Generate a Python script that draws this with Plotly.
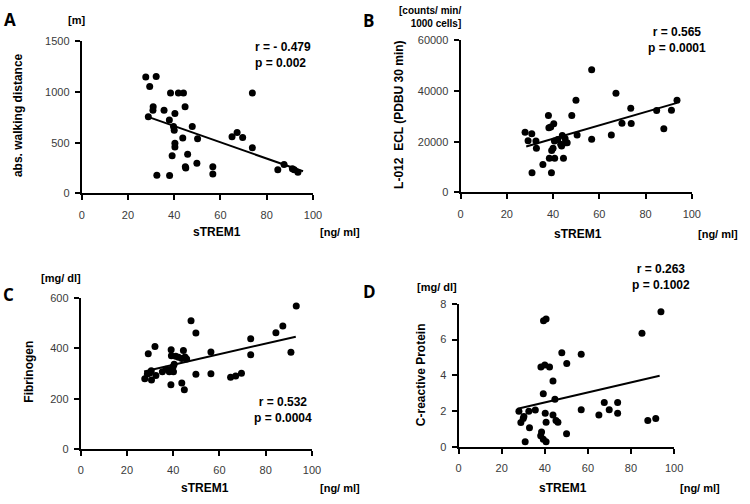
import plotly.graph_objects as go

# sTREM1 vs. four clinical parameters

# panel A - absolute walking distance [m]
a_x = [27.7, 32.2, 29.4, 38.4, 41.8, 44.0, 73.8, 30.9, 30.8, 44.7, 35.6, 40.3, 28.8,
       37.9, 39.7, 40.0, 47.8, 65.0, 67.2, 69.6, 73.8, 43.7, 50.1, 40.3, 40.3, 39.1,
       45.8, 44.8, 45.0, 49.8, 56.7, 56.7, 32.5, 38.0, 84.8, 87.5, 91.1, 91.9, 93.5]
a_y = [1147, 1151, 1054, 990, 990, 990, 990, 853, 820, 853, 820, 788, 756,
       724, 660, 622, 660, 558, 599, 551, 449, 545, 538, 494, 458, 372,
       385, 263, 250, 298, 263, 192, 179, 176, 234, 285, 244, 234, 208]
a_fit_x = [28.4, 95.7]
a_fit_y = [756, 218]

# panel B - L-012 ECL (PDBU 30 min)
b_x = [27.9, 30.8, 29.2, 30.9, 32.6, 32.8, 35.6, 38.0, 38.2, 39.0, 40.3, 38.4, 39.3,
       39.4, 40.0, 40.7, 40.6, 42.0, 43.3, 43.7, 44.0, 45.2, 45.4, 46.1, 44.5, 48.1,
       49.9, 50.4, 56.7, 56.7, 65.2, 67.2, 69.8, 73.6, 73.8, 84.8, 87.9, 91.2, 93.6]
b_y = [23700, 23100, 20400, 7800, 20300, 17400, 11000, 30300, 25500, 25800, 27100, 13500, 7800,
       16500, 17400, 13500, 20300, 20900, 19000, 18300, 22400, 21300, 19600, 19600, 13500, 30300,
       36300, 22600, 48300, 21000, 22600, 39100, 27300, 33200, 27200, 32300, 25100, 32400, 36300]
b_fit_x = [28.4, 93.6]
b_fit_y = [18100, 35300]

# panel C - fibrinogen [mg/dl]
c_x = [27.7, 28.8, 29.8, 29.2, 30.6, 30.5, 32.1, 32.5, 35.3, 36.9, 38.3, 39.1, 39.2,
       39.0, 40.0, 40.1, 39.2, 41.1, 40.4, 42.3, 43.7, 43.7, 44.4, 45.1, 44.8, 45.8,
       47.7, 49.8, 49.8, 56.3, 56.3, 64.8, 67.0, 69.5, 73.5, 73.5, 84.4, 87.4, 90.9, 93.2]
c_y = [279, 298, 302, 378, 274, 311, 407, 292, 307, 317, 307, 394, 371,
       256, 328, 307, 317, 369, 337, 365, 360, 262, 391, 366, 236, 358,
       509, 461, 297, 385, 299, 285, 290, 301, 438, 374, 462, 488, 384, 568]
c_fit_x = [27.4, 93.0]
c_fit_y = [308, 446]

# panel D - C-reactive protein [mg/dl]
d_x = [28.0, 28.9, 30.0, 30.3, 30.9, 32.6, 32.9, 35.6, 38.2, 40.0, 42.2, 39.4, 40.6,
       39.3, 38.5, 38.1, 39.3, 40.6, 40.2, 40.6, 43.8, 43.8, 44.7, 45.2, 46.1, 47.9,
       50.1, 50.2, 56.9, 56.9, 65.1, 67.6, 69.9, 73.8, 73.8, 85.1, 87.8, 91.5, 93.9]
d_y = [2.0, 1.38, 1.6, 1.71, 0.31, 2.0, 1.09, 2.07, 4.47, 4.58, 4.47, 7.05, 7.15,
       2.98, 0.85, 0.64, 0.45, 0.31, 1.89, 1.40, 3.69, 1.8, 2.67, 1.49, 1.40, 5.27,
       0.75, 4.67, 5.18, 2.09, 1.8, 2.49, 2.09, 2.49, 1.89, 6.36, 1.49, 1.6, 7.56]
d_fit_x = [27.4, 93.3]
d_fit_y = [2.15, 3.98]

x_ticks = [0, 20, 40, 60, 80, 100]

W, H = 750, 504
tick_font = dict(family="Liberation Sans, Arial", size=11, color="#3a3a3a")
bold = "Liberation Sans, Arial"

panels = [
    # suffix, x data, y data, fit x, fit y, y range, y ticks, x px span, y px span
    ("", a_x, a_y, a_fit_x, a_fit_y, [0, 1500], [0, 500, 1000, 1500], (80, 315), (36, 192)),
    ("2", b_x, b_y, b_fit_x, b_fit_y, [0, 60000], [0, 20000, 40000, 60000], (465, 700), (35, 191)),
    ("3", c_x, c_y, c_fit_x, c_fit_y, [0, 600], [0, 200, 400, 600], (79, 314), (299, 454)),
    ("4", d_x, d_y, d_fit_x, d_fit_y, [0, 8], [0, 2, 4, 6, 8], (463, 682), (305, 452)),
]

fig = go.Figure()
for sfx, px, py, fx, fy, yr, yt, xs, ys in panels:
    xa, ya = "x" + sfx, "y" + sfx
    fig.add_trace(go.Scatter(x=px, y=py, mode="markers", xaxis=xa, yaxis=ya,
                             marker=dict(color="black", size=7), cliponaxis=False,
                             showlegend=False))
    fig.add_trace(go.Scatter(x=fx, y=fy, mode="lines", xaxis=xa, yaxis=ya,
                             line=dict(color="black", width=2), showlegend=False))
    fig.layout["xaxis" + sfx] = dict(
        domain=[xs[0] / W, xs[1] / W], anchor=ya, range=[0, 100], tickvals=x_ticks,
        showgrid=False, zeroline=False, showline=True, linecolor="black", linewidth=2,
        ticks="outside", ticklen=5, tickwidth=1.5, tickcolor="black",
        tickfont=tick_font, ticklabelstandoff=5)
    fig.layout["yaxis" + sfx] = dict(
        domain=[1 - ys[1] / H, 1 - ys[0] / H], anchor=xa, range=yr, tickvals=yt,
        ticktext=[str(v) for v in yt],
        showgrid=False, zeroline=False, showline=True, linecolor="black", linewidth=2,
        ticks="outside", ticklen=5, tickwidth=1.5, tickcolor="black",
        tickfont=tick_font, ticklabelstandoff=3)


def label(txt, x, y, size=12, angle=0, align="center", xanchor="center", family=bold):
    fig.add_annotation(text=txt, x=x / W, y=1 - y / H, xref="paper", yref="paper",
                       showarrow=False, textangle=angle, align=align, xanchor=xanchor,
                       yanchor="middle", font=dict(family=family, size=size, color="black"))


# panel letters
for t, x, y in [("A", 7, 14), ("B", 371, 15), ("C", 6, 296), ("D", 372, 292)]:
    label("<b>%s</b>" % t, x, y, size=17, family="Open Sans, Liberation Sans")

# axis titles
label("<b>abs. walking distance</b>", 16, 112, angle=-90)
label("<b>L-012  ECL (PDBU 30 min)</b>", 403, 112, angle=-90)
label("<b>Fibrinogen</b>", 27, 375, angle=-90)
label("<b>C-reactive Protein</b>", 425, 378, angle=-90)
for x1, x2, y in [(217, 342, 232), (584, 727, 234), (205, 342, 494), (569, 708, 494)]:
    label("<b>sTREM1</b>", x1, y)
    label("<b>[ng/ ml]</b>", x2, y, size=11)

# units
label("<b>[m]</b>", 75, 14, size=11)
label("<b>[counts/ min/<br>1000 cells]</b>", 467, 11, size=10, align="right", xanchor="right")
label("<b>[mg/ dl]</b>", 59, 279, size=11)
label("<b>[mg/ dl]</b>", 441, 288, size=11)

# correlation stats
label("<b>r = - 0.479<br>p = 0.002</b>", 254, 50, align="left", xanchor="left")
label("<b>r = 0.565<br>p = 0.0001</b>", 685, 35)
label("<b>r = 0.532<br>p = 0.0004</b>", 285, 414)
label("<b>r = 0.263<br>p = 0.1002</b>", 669, 278)

fig.update_layout(width=W, height=H, margin=dict(l=0, r=0, t=0, b=0),
                  paper_bgcolor="white", plot_bgcolor="white")

# drop the default body margin so the figure sits at the page corner
fig.write_html("out.html", config={"displayModeBar": False},
               post_script="document.body.style.margin = '0';")
